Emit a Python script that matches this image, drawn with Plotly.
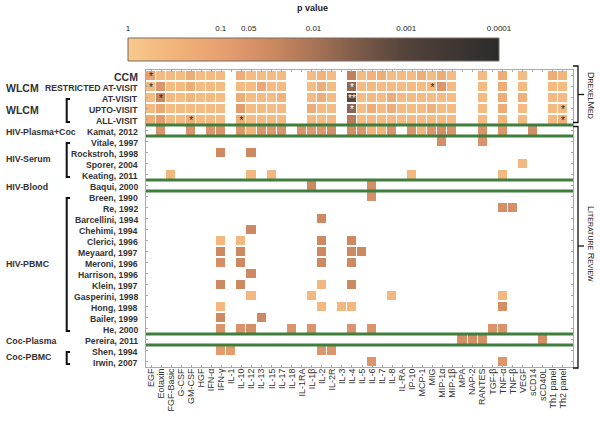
import math
import plotly.graph_objects as go

# ---------------- data ----------------
cytokines = ["EGF", "Eotaxin", "FGF-Basic", "G-CSF", "GM-CSF", "HGF", "IFN-α", "IFN-γ", "IL-1",
             "IL-10", "IL-12", "IL-13", "IL-15", "IL-17", "IL-18", "IL-1RA", "IL-1β", "IL-2",
             "IL-2R", "IL-3", "IL-4", "IL-5", "IL-6", "IL-7", "IL-8", "IL-RA", "IP-10", "MCP-1",
             "MIG", "MIP-1α", "MIP-1β", "MPA", "NAP-2", "RANTES", "TGF-β", "TNF-α", "TNF-β",
             "VEGF", "sCD14", "sCD40L", "Th1 panel", "Th2 panel"]

studies = ["CCM", "RESTRICTED AT-VISIT", "AT-VISIT", "UPTO-VISIT", "ALL-VISIT", "Kamat, 2012",
           "Vitale, 1997", "Rockstroh, 1998", "Sporer, 2004", "Keating, 2011", "Baqui, 2000",
           "Breen, 1990", "Re, 1992", "Barcellini, 1994", "Chehimi, 1994", "Clerici, 1996",
           "Meyaard, 1997", "Meroni, 1996", "Harrison, 1996", "Klein, 1997", "Gasperini, 1998",
           "Hong, 1998", "Bailer, 1999", "He, 2000", "Pereira, 2011", "Shen, 1994", "Irwin, 2007"]

N = None
# DrexelMed model p values (one per cytokine, None = not measured)
p_ccm = [0.12, 0.5, 0.45, 0.5, 0.2, 0.5, 0.5, 0.45, N, 0.2, 0.5, 0.5, 0.45, 0.5, N, N, 0.5, 0.3, 0.5, N,
         0.02, 0.5, 0.3, 0.2, 0.5, 0.45, 0.5, 0.2, 0.5, 0.2, 0.5, N, N, 0.45, N, 0.2, N, 0.5, N, N, 0.2, 0.35]
p_restricted = [0.45, 0.06, 0.5, 0.45, 0.2, 0.5, 0.45, 0.5, N, 0.45, 0.5, 0.15, 0.5, 0.45, N, N, 0.5, 0.2, 0.5, N,
                0.006, 0.5, 0.45, 0.5, 0.45, 0.5, 0.45, 0.5, 0.45, 0.06, 0.45, N, N, 0.45, N, 0.2, N, 0.45, N, N, 0.45, 0.5]
p_at_visit = [0.5, 0.025, 0.45, 0.5, 0.35, 0.5, 0.45, 0.5, N, 0.2, 0.5, 0.45, 0.5, 0.3, N, N, 0.45, 0.2, 0.5, N,
              0.0012, 0.5, 0.45, 0.5, 0.2, 0.45, 0.5, 0.45, 0.5, 0.45, 0.5, N, N, 0.45, N, 0.2, N, 0.25, N, N, 0.45, 0.45]
p_upto_visit = [0.45, 0.15, 0.5, 0.45, 0.45, 0.5, 0.45, 0.5, N, 0.08, 0.5, 0.45, 0.5, 0.45, N, N, 0.2, 0.45, 0.5, N,
                0.005, 0.5, 0.2, 0.45, 0.2, 0.45, 0.5, 0.45, 0.25, 0.5, 0.45, N, N, 0.5, N, 0.2, N, 0.45, N, N, 0.45, 0.45]
p_all_visit = [0.2, 0.08, 0.5, 0.45, 0.2, 0.5, 0.45, 0.5, N, 0.2, 0.5, 0.45, 0.5, 0.45, N, N, 0.45, 0.5, 0.45, N,
               0.015, 0.5, 0.45, 0.5, 0.45, 0.5, 0.45, 0.5, 0.45, 0.45, 0.5, N, N, 0.45, N, 0.35, N, 0.45, N, N, 0.45, 0.25]

# Literature review p values (cytokine -> p)
p_literature = {
    "Kamat, 2012": {"Eotaxin": 0.05, "GM-CSF": 0.05, "IFN-α": 0.06, "IFN-γ": 0.05, "IL-10": 0.06, "IL-12": 0.3,
                    "IL-13": 0.06, "IL-15": 0.07, "IL-17": 0.05, "IL-1RA": 0.05, "IL-1β": 0.07, "IL-2": 0.07,
                    "IL-2R": 0.04, "IL-4": 0.04, "IL-5": 0.06, "IL-6": 0.3, "IL-7": 0.35, "IL-8": 0.05,
                    "IP-10": 0.05, "MCP-1": 0.35, "MIG": 0.06, "MIP-1α": 0.04, "MIP-1β": 0.05, "RANTES": 0.05,
                    "TNF-α": 0.06, "sCD14": 0.04},
    "Vitale, 1997": {"MIP-1α": 0.04, "RANTES": 0.05},
    "Rockstroh, 1998": {"IFN-γ": 0.03, "IL-12": 0.03},
    "Sporer, 2004": {"VEGF": 0.4},
    "Keating, 2011": {"FGF-Basic": 0.4, "IL-12": 0.4, "IL-15": 0.4, "IP-10": 0.4, "TNF-α": 0.4},
    "Baqui, 2000": {"IL-1β": 0.03, "IL-6": 0.04},
    "Breen, 1990": {"IL-6": 0.04},
    "Re, 1992": {"TNF-α": 0.04, "TNF-β": 0.04},
    "Barcellini, 1994": {"IL-2": 0.03},
    "Chehimi, 1994": {"IL-12": 0.03},
    "Clerici, 1996": {"IFN-γ": 0.4, "IL-10": 0.4, "IL-2": 0.03, "IL-4": 0.03},
    "Meyaard, 1997": {"IFN-γ": 0.03, "IL-10": 0.03, "IL-2": 0.03, "IL-4": 0.03, "IL-5": 0.03},
    "Meroni, 1996": {"IFN-γ": 0.04, "IL-10": 0.03, "IL-2": 0.03, "IL-4": 0.03},
    "Harrison, 1996": {"IL-12": 0.03},
    "Klein, 1997": {"IFN-γ": 0.03, "IL-10": 0.03, "IL-2": 0.4, "IL-4": 0.03},
    "Gasperini, 1998": {"IL-12": 0.4, "IL-1β": 0.4, "IL-8": 0.4, "TNF-α": 0.4},
    "Hong, 1998": {"IFN-γ": 0.4, "IL-2": 0.4, "IL-3": 0.4, "IL-4": 0.4, "TNF-α": 0.04},
    "Bailer, 1999": {"IFN-γ": 0.03, "IL-13": 0.03},
    "He, 2000": {"IFN-γ": 0.05, "IL-10": 0.05, "IL-12": 0.04, "IL-18": 0.05, "IL-1β": 0.05, "IL-4": 0.05,
                 "IL-6": 0.05, "TGF-β": 0.05, "TNF-α": 0.05},
    "Pereira, 2011": {"MPA": 0.04, "NAP-2": 0.04, "RANTES": 0.04, "sCD40L": 0.04},
    "Shen, 1994": {"IFN-γ": 0.08, "IL-1": 0.08, "IL-2": 0.06, "IL-2R": 0.06},
    "Irwin, 2007": {"IL-6": 0.06, "TNF-α": 0.06},
}

# significance stars
star_study = ["CCM", "RESTRICTED AT-VISIT", "AT-VISIT", "ALL-VISIT", "ALL-VISIT", "RESTRICTED AT-VISIT",
              "UPTO-VISIT", "ALL-VISIT", "RESTRICTED AT-VISIT", "AT-VISIT", "UPTO-VISIT"]
star_cyto = ["EGF", "EGF", "Eotaxin", "GM-CSF", "IL-10", "MIG", "Th2 panel", "Th2 panel", "IL-4", "IL-4", "IL-4"]
star_text = ["*", "*", "*", "*", "*", "*", "*", "*", "*", "**", "*"]
star_color = ["#222", "#222", "#222", "#222", "#222", "#222", "#222", "#222", "#fff", "#fff", "#fff"]

# groups
group_label = ["WLCM", "WLCM", "HIV-Plasma+Coc", "HIV-Serum", "HIV-Blood", "HIV-PBMC", "Coc-Plasma", "Coc-PBMC"]
group_first = ["RESTRICTED AT-VISIT", "AT-VISIT", "Kamat, 2012", "Vitale, 1997", "Baqui, 2000", "Breen, 1990",
               "Pereira, 2011", "Shen, 1994"]
group_last = ["RESTRICTED AT-VISIT", "ALL-VISIT", "Kamat, 2012", "Keating, 2011", "Baqui, 2000", "He, 2000",
              "Pereira, 2011", "Irwin, 2007"]
separator_after = ["ALL-VISIT", "Kamat, 2012", "Keating, 2011", "Baqui, 2000", "He, 2000", "Pereira, 2011"]

# colour legend
cbar_p = [1, 0.1, 0.05, 0.01, 0.001, 0.0001]
cbar_labels = ["1", "0.1", "0.05", "0.01", "0.001", "0.0001"]
cbar_steps = [i / 100 for i in range(401)]  # -log10(p) from 0 to 4

# ---------------- layout geometry ----------------
W, H = 600, 421
ML, MR, MT, MB = 100, 20, 5, 54
PW, PH = W - ML - MR, H - MT - MB


def px_x(px):
    return (px - ML) / PW


def px_y(py):
    return (H - MB - py) / PH


GRID_L, GRID_R, GRID_T, GRID_B = 146, 573, 70, 367
CB_L, CB_R, CB_T, CB_B = 128, 499, 38, 61

z = []
top_rows = [p_ccm, p_restricted, p_at_visit, p_upto_visit, p_all_visit]
for i, s in enumerate(studies):
    if i < len(top_rows):
        row = top_rows[i]
    else:
        d = p_literature.get(s, {})
        row = [d.get(c) for c in cytokines]
    z.append([None if p is None else -math.log10(p) for p in row])

colorscale = [
    [0.0, "#F7C98D"], [0.125, "#F2B47B"], [0.25, "#E7A070"], [0.325, "#DA936A"],
    [0.4, "#C8875F"], [0.5, "#A97457"], [0.625, "#7A5A48"], [0.75, "#53433B"], [1.0, "#2B2B2B"],
]
FONT = "Liberation Sans, Arial"

fig = go.Figure()
fig.add_trace(go.Heatmap(
    z=z, x=list(range(len(cytokines))), y=list(range(len(studies))),
    zmin=0, zmax=4, colorscale=colorscale, xgap=1, ygap=2, hoverongaps=False, showscale=False,
))
fig.add_trace(go.Heatmap(
    z=[cbar_steps], x=cbar_steps, y=[0], zmin=0, zmax=4, colorscale=colorscale,
    showscale=False, xaxis="x2", yaxis="y2", hoverinfo="skip",
))
fig.add_trace(go.Scatter(
    x=[cytokines.index(c) for c in star_cyto],
    y=[studies.index(s) + 0.18 for s in star_study],
    mode="text", text=star_text,
    textfont=dict(family=FONT, size=10, color=star_color),
    hoverinfo="skip", showlegend=False,
))

shapes = []
for s in separator_after:
    yv = studies.index(s) + 0.5
    shapes.append(dict(type="line", xref="x domain", yref="y", x0=0, x1=1, y0=yv, y1=yv,
                       line=dict(color="#3f7f3d", width=3)))
# legend bar outline
shapes.append(dict(type="rect", xref="x2 domain", yref="y2 domain", x0=0, x1=1, y0=0, y1=1,
                   line=dict(color="#7a6a60", width=1)))


def row_px(r):
    return GRID_T + (r + 0.5) * (GRID_B - GRID_T) / len(studies)


annotations = []
for i, s in enumerate(studies):
    size = 10.5 if s == "CCM" else 8.7
    annotations.append(dict(x=px_x(140), y=i, xref="paper", yref="y", text="<b>%s</b>" % s,
                            showarrow=False, xanchor="right", yanchor="middle", yshift=-1,
                            font=dict(family=FONT, size=size, color="#333")))

for lab, f, l in zip(group_label, group_first, group_last):
    r0, r1 = studies.index(f), studies.index(l)
    size = 10.5 if lab == "WLCM" else 8.8
    annotations.append(dict(x=px_x(4), y=(r0 + r1) / 2, xref="paper", yref="y", text="<b>%s</b>" % lab,
                            showarrow=False, xanchor="left", yanchor="middle", yshift=-1,
                            font=dict(family=FONT, size=size, color="#333")))
    if r1 > r0:
        ya, yb = px_y(row_px(r0) + 1.5), px_y(row_px(r1) + 2.5)
        xa, xb = px_x(66.7), px_x(70)
        shapes.append(dict(type="path", xref="paper", yref="paper",
                           path="M %f %f L %f %f L %f %f L %f %f" % (xb, ya, xa, ya, xa, yb, xb, yb),
                           line=dict(color="#111", width=2)))


def right_bracket(top, bottom, mid):
    xa, xb, xc = px_x(573), px_x(578), px_x(584)
    shapes.append(dict(type="path", xref="paper", yref="paper",
                       path="M %f %f L %f %f L %f %f L %f %f" % (xa, px_y(top), xb, px_y(top), xb, px_y(bottom), xa, px_y(bottom)),
                       line=dict(color="#111", width=1.3)))
    shapes.append(dict(type="line", xref="paper", yref="paper", x0=xb, x1=xc, y0=px_y(mid), y1=px_y(mid),
                       line=dict(color="#111", width=1.3)))


right_bracket(66, 122.5, 94.5)
right_bracket(126.5, 368, 246)

sc = 'font-size:7px'
annotations.append(dict(x=px_x(591), y=px_y(95), xref="paper", yref="paper", textangle=90,
                        xanchor="center", yanchor="middle",
                        text='D<span style="%s">REXEL</span>M<span style="%s">ED</span>' % (sc, sc),
                        showarrow=False, font=dict(family=FONT, size=9, color="#222")))
annotations.append(dict(x=px_x(591), y=px_y(244), xref="paper", yref="paper", textangle=90,
                        xanchor="center", yanchor="middle",
                        text='L<span style="%s">ITERATURE</span> R<span style="%s">EVIEW</span>' % (sc, sc),
                        showarrow=False, font=dict(family=FONT, size=9, color="#222")))
annotations.append(dict(x=px_x(312.5), y=px_y(8), xref="paper", yref="paper", text="<b>p value</b>",
                        showarrow=False, yanchor="middle",
                        font=dict(family=FONT, size=9, color="#222")))

fig.update_layout(
    width=W, height=H, margin=dict(l=ML, r=MR, t=MT, b=MB, autoexpand=False),
    paper_bgcolor="white", plot_bgcolor="white", showlegend=False,
    shapes=shapes, annotations=annotations,
    xaxis=dict(domain=[px_x(GRID_L), px_x(GRID_R)], range=[-0.5, len(cytokines)],
               tickvals=list(range(len(cytokines))), ticktext=cytokines,
               tickangle=-90, tickfont=dict(family=FONT, size=9, color="#333"), ticklabelstandoff=-3,
               showgrid=False, zeroline=False, showline=True, linecolor="#aaa", linewidth=1, mirror="ticks",
               ticks="inside", ticklen=2, tickcolor="#aaa", fixedrange=True),
    yaxis=dict(domain=[px_y(GRID_B), px_y(GRID_T)], range=[len(studies) - 0.5, -0.5],
               tickvals=list(range(len(studies))), showticklabels=False,
               showgrid=False, zeroline=False, showline=True, linecolor="#aaa", linewidth=1, mirror="ticks",
               ticks="inside", ticklen=2, tickcolor="#aaa", fixedrange=True),
    xaxis2=dict(domain=[px_x(CB_L), px_x(CB_R)], anchor="y2", range=[0, 4], side="top",
                tickvals=[-math.log10(p) for p in cbar_p], ticktext=cbar_labels, ticks="",
                tickfont=dict(family=FONT, size=8, color="#222"), ticklabelstandoff=4,
                showgrid=False, zeroline=False, showline=False, fixedrange=True),
    yaxis2=dict(domain=[px_y(CB_B), px_y(CB_T)], anchor="x2", range=[-0.5, 0.5], visible=False,
                fixedrange=True),
)

fig.write_html("out.html", config={"displayModeBar": False},
               post_script="document.body.style.margin='0';document.body.style.overflow='hidden';")
